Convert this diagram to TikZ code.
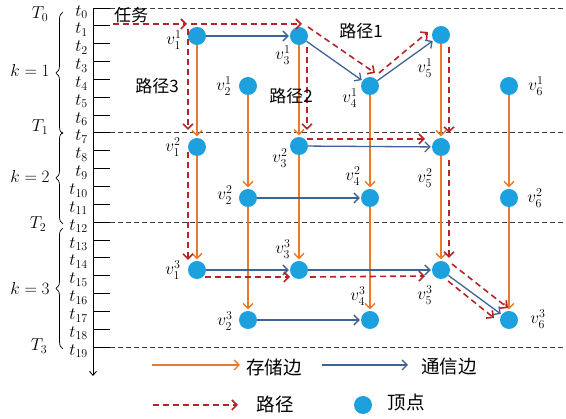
\documentclass[tikz,border=0pt]{standalone}
\usepackage{fontspec}
\newfontfamily\cjk{Noto Sans CJK SC}
\usetikzlibrary{arrows.meta,decorations.pathreplacing}
\definecolor{storeC}{RGB}{232,122,42}
\definecolor{commC}{RGB}{62,100,150}
\definecolor{pathC}{RGB}{182,36,42}
\definecolor{vertC}{RGB}{28,160,222}
\definecolor{gridC}{RGB}{60,60,60}
\tikzset{
  vtx/.style={circle,fill=vertC,minimum size=18pt,inner sep=0pt},
  barb/.style={-{Straight Barb[length=5pt,width=10pt]}},
  store/.style={draw=storeC,line width=1.3pt,barb,shorten >=1.5pt},
  comm/.style={draw=commC,line width=1.3pt,barb,shorten >=1pt},
  pth/.style={draw=pathC,line width=1.6pt,dash pattern=on 6pt off 4pt,barb},
  gridline/.style={draw=gridC,line width=0.9pt,dash pattern=on 5pt off 3pt},
  lbl/.style={inner sep=0pt,font=\fontsize{17.5}{20}\selectfont},
  tl/.style={inner sep=0pt,anchor=east,font=\fontsize{16.5}{18}\selectfont},
  cn/.style={inner sep=0pt,font=\cjk\fontsize{17}{20}\selectfont},
  cnl/.style={inner sep=0pt,font=\cjk\fontsize{18.5}{20}\selectfont},
  brc/.style={draw=black,line width=0.7pt,decorate,decoration={brace,amplitude=7pt}}
}
\begin{document}
\begin{tikzpicture}[x=1pt,y=-1pt]
\useasboundingbox (0,0) rectangle (566,419);
% time axis
\coordinate (ax0) at (93,8);
\coordinate (ax1) at (93,376);
\draw[line width=0.9pt,-{Straight Barb[length=4pt,width=7pt]}] (ax0) -- (ax1);
\foreach \i in {0,...,19}{
  \pgfmathsetmacro{\yy}{8+\i*17.85}
  \draw[line width=0.9pt] (93,\yy) -- (110,\yy);
  \node[tl] (t\i) at (88,\yy+4) {$t_{\i}$};
}
\foreach \i in {0,7,12,19}{
  \pgfmathsetmacro{\yy}{8+\i*17.85}
  \draw[gridline] (110,\yy) -- (566,\yy);
}
% T and k labels
\node[lbl] (T0) at (40,14) {$T_0$};
\node[lbl] (T1) at (40,127) {$T_1$};
\node[lbl] (T2) at (38,224) {$T_2$};
\node[lbl] (T3) at (39,346) {$T_3$};
\node[lbl] (k1) at (30,71) {$k=1$};
\node[lbl] (k2) at (30,177) {$k=2$};
\node[lbl] (k3) at (30,289) {$k=3$};
\coordinate (b1a) at (63,134); \coordinate (b1b) at (63,12);
\coordinate (b2a) at (63,224); \coordinate (b2b) at (63,132);
\coordinate (b3a) at (63,349); \coordinate (b3b) at (63,228);
\draw[brc] (b1a) -- (b1b);
\draw[brc] (b2a) -- (b2b);
\draw[brc] (b3a) -- (b3b);
% vertices
\node[vtx] (v11) at (197,36) {};
\node[vtx] (v21) at (248,86) {};
\node[vtx] (v31) at (299,36) {};
\node[vtx] (v41) at (370,86) {};
\node[vtx] (v51) at (441,35) {};
\node[vtx] (v61) at (509,86) {};
\node[vtx] (v12) at (197,147) {};
\node[vtx] (v32) at (299,146) {};
\node[vtx] (v22) at (248,198) {};
\node[vtx] (v42) at (370,198) {};
\node[vtx] (v52) at (441,147) {};
\node[vtx] (v62) at (509,198) {};
\node[vtx] (v13) at (197,270) {};
\node[vtx] (v33) at (299,270) {};
\node[vtx] (v23) at (248,320) {};
\node[vtx] (v43) at (370,320) {};
\node[vtx] (v53) at (441,270) {};
\node[vtx] (v63) at (509,320) {};
% vertex labels
\node[lbl] (l11) at (174,40) {$v_1^1$};
\node[lbl] (l21) at (224,86) {$v_2^1$};
\node[lbl] (l31) at (283,55) {$v_3^1$};
\node[lbl] (l41) at (350,98) {$v_4^1$};
\node[lbl] (l51) at (425,68) {$v_5^1$};
\node[lbl] (l61) at (536,86) {$v_6^1$};
\node[lbl] (l12) at (173,147) {$v_1^2$};
\node[lbl] (l22) at (225,195) {$v_2^2$};
\node[lbl] (l32) at (280,158) {$v_3^2$};
\node[lbl] (l42) at (353,176) {$v_4^2$};
\node[lbl] (l52) at (425,178) {$v_5^2$};
\node[lbl] (l62) at (535,198) {$v_6^2$};
\node[lbl] (l13) at (173,270) {$v_1^3$};
\node[lbl] (l23) at (225,321) {$v_2^3$};
\node[lbl] (l33) at (283,249) {$v_3^3$};
\node[lbl] (l43) at (358,296) {$v_4^3$};
\node[lbl] (l53) at (425,295) {$v_5^3$};
\node[lbl] (l63) at (538,319) {$v_6^3$};
% storage edges
\draw[store] (v11) -- (v12); \draw[store] (v12) -- (v13);
\draw[store] (v21) -- (v22); \draw[store] (v22) -- (v23);
\draw[store] (v31) -- (v32); \draw[store] (v32) -- (v33);
\draw[store] (v41) -- (v42); \draw[store] (v42) -- (v43);
\draw[store] (v51) -- (v52); \draw[store] (v52) -- (v53);
\draw[store] (v61) -- (v62); \draw[store] (v62) -- (v63);
% communication edges
\draw[comm] (v11) -- (v31);
\draw[comm] (v31) -- (v41);
\draw[comm] (v41) -- (v51);
\draw[comm] (v32) -- (v52);
\draw[comm] (v22) -- (v42);
\draw[comm] (v13) -- (v33);
\draw[comm] (v33) -- (v53);
\draw[comm] (v23) -- (v43);
\draw[comm] (v53) -- (v63);
% path coordinates
\coordinate (ts) at (113,24); \coordinate (te) at (187,24);
\coordinate (p3a) at (188,29); \coordinate (p3b) at (188,130);
\coordinate (p3c) at (188,152); \coordinate (p3d) at (188,260);
\coordinate (p3e) at (205,277); \coordinate (p3f) at (290,277);
\coordinate (p3g) at (310,277); \coordinate (p3h) at (425,276);
\coordinate (p3i) at (448,281); \coordinate (p3j) at (494,318);
\coordinate (p1a) at (191,24); \coordinate (p1b) at (302,24);
\coordinate (p1c) at (308,27); \coordinate (p1d) at (375,73);
\coordinate (p1e) at (379,73); \coordinate (p1f) at (428,32);
\coordinate (p1g) at (449,47); \coordinate (p1h) at (449,133);
\coordinate (p1i) at (449,160); \coordinate (p1j) at (449,258);
\coordinate (p1k) at (452,264); \coordinate (p1l) at (508,308);
\coordinate (p2a) at (307,47); \coordinate (p2b) at (307,130);
\coordinate (p2c) at (307,139); \coordinate (p2d) at (425,139);
% paths
\draw[pth] (ts) -- (te);
\draw[pth] (p3a) -- (p3b);
\draw[pth] (p3c) -- (p3d);
\draw[pth] (p3e) -- (p3f);
\draw[pth] (p3g) -- (p3h);
\draw[pth] (p3i) -- (p3j);
\draw[pth] (p1a) -- (p1b);
\draw[pth] (p1c) -- (p1d);
\draw[pth] (p1e) -- (p1f);
\draw[pth] (p1g) -- (p1h);
\draw[pth] (p1i) -- (p1j);
\draw[pth] (p1k) -- (p1l);
\draw[pth] (p2a) -- (p2b);
\draw[pth] (p2c) -- (p2d);
% path labels
\node[cn] (task) at (131,15) {任务};
\node[cn] (path1) at (361,31) {路径1};
\node[cn] (path2) at (291,96) {路径2};
\node[cn] (path3) at (157,86) {路径3};
% legend
\coordinate (lsa) at (152,365); \coordinate (lsb) at (240,365);
\coordinate (lca) at (322,365); \coordinate (lcb) at (408,365);
\coordinate (lpa) at (153,405); \coordinate (lpb) at (238,405);
\draw[store,shorten >=0pt] (lsa) -- (lsb);
\draw[comm,shorten >=0pt] (lca) -- (lcb);
\draw[pth] (lpa) -- (lpb);
\node[cnl] (lgs) at (274,367) {存储边};
\node[cnl] (lgc) at (449,367) {通信边};
\node[cnl] (lgp) at (275,404) {路径};
\node[vtx] (lgv) at (363,405) {};
\node[cnl] (lgvt) at (406,402) {顶点};
\end{tikzpicture}
\end{document}
